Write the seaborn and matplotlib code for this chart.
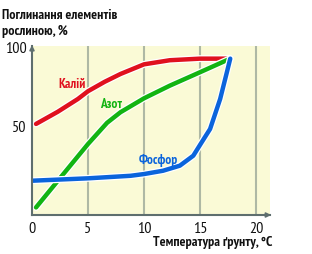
import matplotlib
matplotlib.use("Agg")
import matplotlib.pyplot as plt
import matplotlib.patheffects as pe
import seaborn as sns
import pandas as pd

# Data
kaliy_x = [0.36, 2.3, 4.1, 5.0, 6.5, 7.9, 10.0, 12.3, 15.0, 17.7]
kaliy_y = [51.3, 59.0, 67.1, 72.0, 78.0, 82.9, 89.0, 91.6, 92.6, 92.6]
azot_x = [0.36, 2.44, 5.0, 6.7, 7.9, 10.0, 12.3, 15.0, 17.7]
azot_y = [-1.5, 16.5, 38.6, 52.0, 58.7, 67.5, 75.5, 84.0, 92.6]
fosfor_x = [0.06, 5.0, 8.8, 10.0, 11.7, 13.2, 14.4, 15.15, 15.9, 16.8, 17.4, 17.7]
fosfor_y = [15.4, 16.9, 18.5, 19.6, 21.7, 24.9, 31.2, 39.7, 48.1, 67.1, 84.0, 92.6]
names = ["Калій", "Азот", "Фосфор"]
colors = ["#E0101E", "#12B412", "#0A64DC"]
x_ticks = [0, 5, 10, 15, 20]
y_ticks = [50, 100]

frames = []
for n, xs, ys in zip(names, [kaliy_x, azot_x, fosfor_x], [kaliy_y, azot_y, fosfor_y]):
    frames.append(pd.DataFrame({"x": xs, "y": ys, "el": n}))
df = pd.concat(frames, ignore_index=True)

sns.set_style("white")
plt.rcParams['font.family'] = ['PT Sans Narrow', 'Roboto Condensed', 'Fira Sans Condensed',
                               'Liberation Sans Narrow', 'DejaVu Sans']

fig = plt.figure(figsize=(3.12, 2.55), dpi=100)
ax = fig.add_axes([32/312, 1-216/255, (270-32)/312, (216-47)/255])
ax.set_facecolor("#FAFAD6")

for gx in [5, 10, 15, 20]:
    ax.axvline(gx, color="#AEB8A4", lw=1.5, zorder=1)

sns.lineplot(data=df, x="x", y="y", hue="el", palette=dict(zip(names, colors)),
             sort=False, estimator=None, lw=3.2, legend=False, ax=ax, zorder=3)
for line in ax.get_lines()[-3:]:
    line.set_path_effects([pe.Stroke(linewidth=5.0, foreground="white"), pe.Normal()])
    line.set_solid_capstyle("round")
    line.set_solid_joinstyle("round")

ax.set_xlim(0, 21.25)
ax.set_ylim(-6.3, 100.6)
ax.set_xticks(x_ticks)
ax.set_xticklabels([str(v) for v in x_ticks])
ax.set_yticks(y_ticks)
ax.set_yticklabels([str(v) for v in y_ticks])
ax.tick_params(axis="both", length=0, labelsize=11.5, pad=4, colors="#111111")
for lbl in ax.get_xticklabels() + ax.get_yticklabels():
    lbl.set_fontweight("medium")
ax.set_xlabel("")
ax.set_ylabel("")

for s in ["top", "right"]:
    ax.spines[s].set_visible(False)
for s in ["left", "bottom"]:
    ax.spines[s].set_color("#5E6E6E")
    ax.spines[s].set_linewidth(1.5)
ax.spines["left"].set_zorder(4)
ax.spines["bottom"].set_zorder(4)

# arrows
ax.annotate("", xy=(0, 103), xytext=(0, 95), xycoords="data",
            arrowprops=dict(arrowstyle="-|>", color="#5E6E6E", lw=1.2, mutation_scale=7),
            annotation_clip=False)
ax.annotate("", xy=(21.6, -6.3), xytext=(20.5, -6.3), xycoords="data",
            arrowprops=dict(arrowstyle="-|>", color="#5E6E6E", lw=1.2, mutation_scale=7),
            annotation_clip=False)

ax.text(3.6, 77, "Калій", color=colors[0], fontsize=9.5, fontweight="bold", ha="center", va="center")
ax.text(7.05, 64, "Азот", color=colors[1], fontsize=9.5, fontweight="bold", ha="center", va="center")
ax.text(11.3, 29, "Фосфор", color=colors[2], fontsize=9.5, fontweight="bold", ha="center", va="center")

fig.text(2/312, 1-23.5/255, "Поглинання елементів\nрослиною, %", fontsize=10, fontweight="bold",
         ha="left", va="center", linespacing=1.25, color="#111111")
fig.text(272/312, 1-243/255, "Температура ґрунту, °C", fontsize=10, fontweight="bold",
         ha="right", va="center", color="#111111")

fig.savefig("out.png", dpi=100)
